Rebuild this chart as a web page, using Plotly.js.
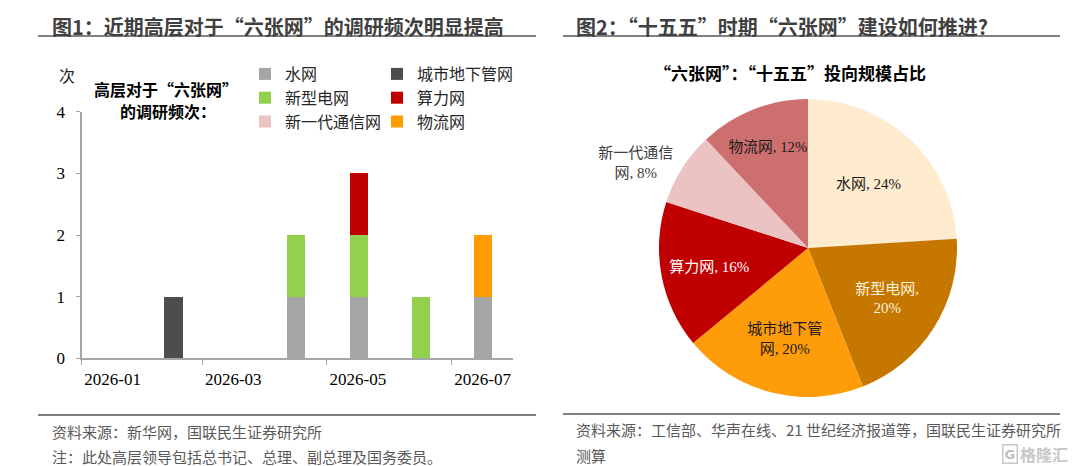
<!DOCTYPE html>
<html><head><meta charset="utf-8">
<script src="https://cdn.plot.ly/plotly-3.0.1.min.js"></script>
<style>html,body{margin:0;padding:0;background:#fff;} #chart{width:1080px;height:466px;}</style>
</head><body><div id="chart"></div>
<script>
// ---------- data: figure 1 (stacked bars) ----------
const months = ["2026-02", "2026-04", "2026-05", "2026-06", "2026-07"];
const waterNet       = [0, 1, 1, 0, 1]; // 水网
const undergroundNet = [1, 0, 0, 0, 0]; // 城市地下管网
const powerGrid      = [0, 1, 1, 1, 0]; // 新型电网
const computeNet     = [0, 0, 1, 0, 0]; // 算力网
const commNet        = [0, 0, 0, 0, 0]; // 新一代通信网
const logisticsNet   = [0, 0, 0, 0, 1]; // 物流网
const yTicks = [0, 1, 2, 3, 4];

// ---------- data: figure 2 (pie) ----------
const pieLabels = ["水网", "新型电网", "城市地下管网", "算力网", "新一代通信网", "物流网"];
const pieValues = [24, 20, 20, 16, 8, 12];

// ---------- helpers (pixel -> paper) ----------
const W = 1080, H = 466;
const px = x => x / W;
const py = y => 1 - y / H;

const CJK = "Noto Sans CJK SC";
const SERIF = "Liberation Serif, Noto Sans CJK SC";

const barSpec = [
  {name: "水网", y: waterNet, color: "#A5A5A5", legend: "legend"},
  {name: "城市地下管网", y: undergroundNet, color: "#4D4D4D", legend: "legend2"},
  {name: "新型电网", y: powerGrid, color: "#92D050", legend: "legend"},
  {name: "算力网", y: computeNet, color: "#C00000", legend: "legend2"},
  {name: "新一代通信网", y: commNet, color: "#EBC3C3", legend: "legend"},
  {name: "物流网", y: logisticsNet, color: "#FF9C00", legend: "legend2"}
];

const traces = barSpec.map(s => ({
  type: "bar",
  name: s.name,
  x: months,
  y: s.y,
  xperiod: "M1",
  xperiodalignment: "middle",
  width: 7.7e8,
  marker: {color: s.color, line: {width: 0}},
  legend: s.legend,
  hoverinfo: "skip",
  xaxis: "x", yaxis: "y"
}));

traces.push({
  type: "pie",
  labels: pieLabels,
  values: pieValues,
  sort: false,
  direction: "clockwise",
  rotation: 0,
  hole: 0,
  showlegend: false,
  domain: {x: [px(659), px(957)], y: [py(397), py(99)]},
  marker: {
    colors: ["#FFEBCD", "#C57700", "#FF9C0A", "#C00000", "#EBC3C3", "#CD6F6F"],
    line: {width: 0}
  },
  texttemplate: ["%{label}, %{value}%", "%{label},<br>%{value}%", "城市地下管<br>网, %{value}%",
                 "%{label}, %{value}%", "新一代通信<br>网, %{value}%", "%{label}, %{value}%"],
  textposition: ["inside", "inside", "inside", "inside", "outside", "inside"],
  insidetextorientation: "horizontal",
  textfont: {family: SERIF, size: 15,
             color: ["#1a1a1a", "#FFF3DF", "#1a1a1a", "#FFFFFF", "#404040", "#1a1a1a"]},
  outsidetextfont: {family: SERIF, size: 15, color: "#404040"},
  hoverinfo: "skip"
});

const lineColor = "#808080";
const legendFont = {family: CJK, size: 16, color: "#262626"};
const layout = {
  width: W, height: H,
  margin: {l: 0, r: 0, t: 0, b: 0},
  paper_bgcolor: "#fff", plot_bgcolor: "rgba(0,0,0,0)",
  barmode: "stack",
  bargap: 0,
  font: {family: CJK, color: "#000"},
  xaxis: {
    type: "date",
    domain: [px(81.6), px(513)],
    range: ["2026-01-01", "2026-07-31"],
    tickmode: "linear", tick0: "2026-01-01", dtick: "M2",
    tickformat: "%Y-%m",
    ticklabelshift: 31,
    ticks: "outside", ticklen: 5, tickcolor: "#A6A6A6", tickwidth: 1,
    showline: true, linecolor: "#A6A6A6", linewidth: 1.2,
    showgrid: false, zeroline: false,
    tickfont: {family: SERIF, size: 17, color: "#000"},
    fixedrange: true
  },
  yaxis: {
    domain: [py(358.4), py(111.6)],
    range: [0, 4],
    tickmode: "array", tickvals: yTicks, ticktext: yTicks.map(String),
    ticks: "outside", ticklen: 4, tickcolor: "#A6A6A6", tickwidth: 1,
    showline: true, linecolor: "#A6A6A6", linewidth: 1.2,
    showgrid: false, zeroline: false,
    ticklabelstandoff: 8,
    tickfont: {family: SERIF, size: 17, color: "#000"},
    fixedrange: true
  },
  legend: {
    x: px(245), y: py(57), xanchor: "left", yanchor: "top",
    orientation: "v", traceorder: "normal",
    font: legendFont,
    itemwidth: 30, bgcolor: "rgba(0,0,0,0)", borderwidth: 0
  },
  legend2: {
    x: px(377), y: py(57), xanchor: "left", yanchor: "top",
    orientation: "v", traceorder: "normal",
    font: legendFont,
    itemwidth: 30, bgcolor: "rgba(0,0,0,0)", borderwidth: 0
  },
  shapes: [
    {type: "line", xref: "paper", yref: "paper", x0: px(38), x1: px(536), y0: py(36), y1: py(36), line: {color: lineColor, width: 2}},
    {type: "line", xref: "paper", yref: "paper", x0: px(563), x1: px(1060), y0: py(36), y1: py(36), line: {color: lineColor, width: 2}},
    {type: "line", xref: "paper", yref: "paper", x0: px(38), x1: px(536), y0: py(415), y1: py(415), line: {color: lineColor, width: 2}},
    {type: "line", xref: "paper", yref: "paper", x0: px(563), x1: px(1060), y0: py(414), y1: py(414), line: {color: lineColor, width: 2}}
  ],
  annotations: [
    {text: "<b>图1：近期高层对于“六张网”的调研频次明显提高</b>", x: px(50), y: py(26), xref: "paper", yref: "paper",
     xanchor: "left", yanchor: "middle", showarrow: false, font: {family: CJK, size: 20, color: "#404040"}},
    {text: "<b>图2：“十五五”时期“六张网”建设如何推进?</b>", x: px(574), y: py(26), xref: "paper", yref: "paper",
     xanchor: "left", yanchor: "middle", showarrow: false, font: {family: CJK, size: 20, color: "#404040"}},
    {text: "次", x: px(66.7), y: py(75), xref: "paper", yref: "paper", xanchor: "center", yanchor: "middle",
     showarrow: false, font: {family: CJK, size: 16, color: "#262626"}},
    {text: "<b>高层对于“六张网”</b>", x: px(166), y: py(89), xref: "paper", yref: "paper",
     xanchor: "center", yanchor: "middle", align: "center", showarrow: false,
     font: {family: CJK, size: 16, color: "#000"}},
    {text: "<b>的调研频次：</b>", x: px(168), y: py(111), xref: "paper", yref: "paper",
     xanchor: "center", yanchor: "middle", align: "center", showarrow: false,
     font: {family: CJK, size: 16, color: "#000"}},
    {text: "<b>“六张网”：“十五五”投向规模占比</b>", x: px(790), y: py(72), xref: "paper", yref: "paper",
     xanchor: "center", yanchor: "middle", showarrow: false, font: {family: CJK, size: 17, color: "#000"}},
    {text: "资料来源：新华网，国联民生证券研究所", x: px(50), y: py(431), xref: "paper", yref: "paper",
     xanchor: "left", yanchor: "middle", showarrow: false, font: {family: CJK, size: 15, color: "#595959"}},
    {text: "注：此处高层领导包括总书记、总理、副总理及国务委员。", x: px(50), y: py(456), xref: "paper", yref: "paper",
     xanchor: "left", yanchor: "middle", showarrow: false, font: {family: CJK, size: 15, color: "#595959"}},
    {text: "资料来源：工信部、华声在线、21 世纪经济报道等，国联民生证券研究所", x: px(574), y: py(429), xref: "paper", yref: "paper",
     xanchor: "left", yanchor: "middle", showarrow: false, font: {family: CJK, size: 15, color: "#595959"}},
    {text: "测算", x: px(574), y: py(455), xref: "paper", yref: "paper",
     xanchor: "left", yanchor: "middle", showarrow: false, font: {family: CJK, size: 15, color: "#595959"}},
    {text: "<b>G</b>", x: px(1010), y: py(454), xref: "paper", yref: "paper", xanchor: "center", yanchor: "middle",
     showarrow: false, bordercolor: "#C8C8C8", borderwidth: 1.5, borderpad: 1,
     font: {family: "DejaVu Sans", size: 13, color: "#C0C0C0"}},
    {text: "<b>格隆汇</b>", x: px(1044), y: py(454), xref: "paper", yref: "paper", xanchor: "center", yanchor: "middle",
     showarrow: false, font: {family: CJK, size: 16, color: "#C8C8C8"}}
  ]
};

Plotly.newPlot("chart", traces, layout, {displayModeBar: false, staticPlot: true});
</script>
</body></html>
